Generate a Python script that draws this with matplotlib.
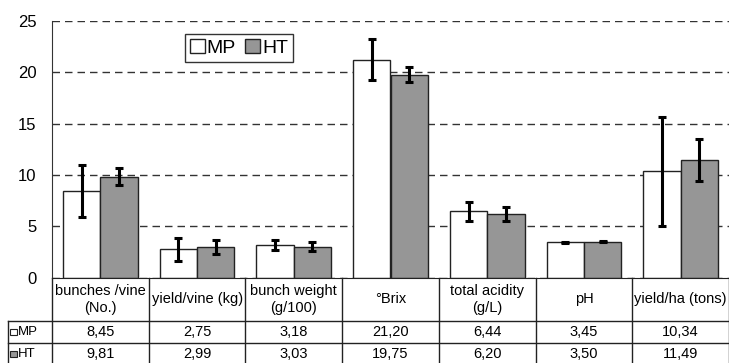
import numpy as np
import matplotlib
matplotlib.use("Agg")
from matplotlib import pyplot as plt
from matplotlib.patches import Rectangle
from matplotlib.transforms import blended_transform_factory

plt.rcParams['font.family'] = ['Liberation Sans', 'DejaVu Sans']

# data
categories = ["bunches /vine\n(No.)", "yield/vine (kg)", "bunch weight\n(g/100)", "°Brix",
              "total acidity\n(g/L)", "pH", "yield/ha (tons)"]
mp_vals = [8.45, 2.75, 3.18, 21.20, 6.44, 3.45, 10.34]
ht_vals = [9.81, 2.99, 3.03, 19.75, 6.20, 3.50, 11.49]
mp_err = [2.56, 1.10, 0.50, 2.00, 0.95, 0.05, 5.27]
ht_err = [0.83, 0.65, 0.48, 0.75, 0.70, 0.05, 2.05]
series = ["MP", "HT"]
colors = ["white", "#969696"]

W, H = 729, 363
fig = plt.figure(figsize=(W / 100, H / 100), dpi=100)
ax = fig.add_axes([52 / W, 1 - 277.7 / H, 1 - 52 / W, (277.7 - 20.7) / H])

x = np.arange(len(categories))
bw = 0.387
for k, (vals, errs) in enumerate([(mp_vals, mp_err), (ht_vals, ht_err)]):
    pos = x + (k - 0.5) * bw
    ax.bar(pos, vals, width=bw, color=colors[k], edgecolor="#222222", linewidth=1.0,
           label=series[k], zorder=2)
    ax.errorbar(pos, vals, yerr=errs, fmt="none", ecolor="black", elinewidth=2.2,
                capsize=2.6, capthick=2.2, zorder=3)

ax.set_xlim(-0.5, len(categories) - 0.5)
ax.set_ylim(0, 25)
ax.set_yticks([0, 5, 10, 15, 20, 25])
ax.tick_params(axis="y", length=0, pad=11, labelsize=12)
ax.set_xticks([])
ax.yaxis.grid(True, color="#333333", linestyle=(0, (5.4, 3.6)), linewidth=1.0, zorder=0)
for s in ["top", "right"]:
    ax.spines[s].set_visible(False)
ax.spines["left"].set_color("#333333")
ax.spines["bottom"].set_color("#222222")

leg = ax.legend(loc="center", bbox_to_anchor=(239 / W, 1 - 48 / H), bbox_transform=fig.transFigure,
                ncol=2, fontsize=14, frameon=True, fancybox=False, handlelength=0.75,
                handleheight=0.75, handletextpad=0.1, columnspacing=0.5, borderpad=0.25,
                borderaxespad=0)
leg.get_frame().set_edgecolor("black")
leg.get_frame().set_linewidth(1.0)
for h in leg.legend_handles:
    h.set_edgecolor("#222222")

# data table below the plot
tr = blended_transform_factory(ax.transData, fig.transFigure)
y_axis = 1 - 277.7 / H
y_hdr = 1 - 321 / H
y_mp = 1 - 343 / H
y_ht = 1 - 365 / H
x_left = -0.5 - (52 - 8) / ((W - 52) / len(categories))
x_right = len(categories) - 0.5
lc = "#222222"

ax.plot([x_left, x_right], [y_hdr, y_hdr], transform=tr, color=lc, lw=1, clip_on=False)
ax.plot([x_left, x_right], [y_mp, y_mp], transform=tr, color=lc, lw=1, clip_on=False)
ax.plot([x_left, x_left], [y_hdr, y_ht], transform=tr, color=lc, lw=1, clip_on=False)
for i in range(len(categories) + 1):
    xe = i - 0.5
    ax.plot([xe, xe], [y_axis, y_ht], transform=tr, color=lc, lw=1, clip_on=False)

for i, lab in enumerate(categories):
    ax.text(i, (y_axis + y_hdr) / 2, lab, transform=tr, ha="center", va="center",
            fontsize=10.5, linespacing=1.25)
    ax.text(i, (y_hdr + y_mp) / 2, f"{mp_vals[i]:.2f}".replace(".", ","), transform=tr,
            ha="center", va="center", fontsize=10.5)
    ax.text(i, (y_mp + y_ht) / 2, f"{ht_vals[i]:.2f}".replace(".", ","), transform=tr,
            ha="center", va="center", fontsize=10.5)

for k, yc in enumerate([(y_hdr + y_mp) / 2, (y_mp + y_ht) / 2]):
    sq = 6.5
    fig.patches.append(Rectangle((10 / W, yc - sq / 2 / H), sq / W, sq / H,
                                 transform=fig.transFigure, facecolor=colors[k],
                                 edgecolor="#222222", lw=0.8))
    fig.text(17.5 / W, yc, series[k], ha="left", va="center", fontsize=9.5)

fig.savefig("out.png", dpi=100)
